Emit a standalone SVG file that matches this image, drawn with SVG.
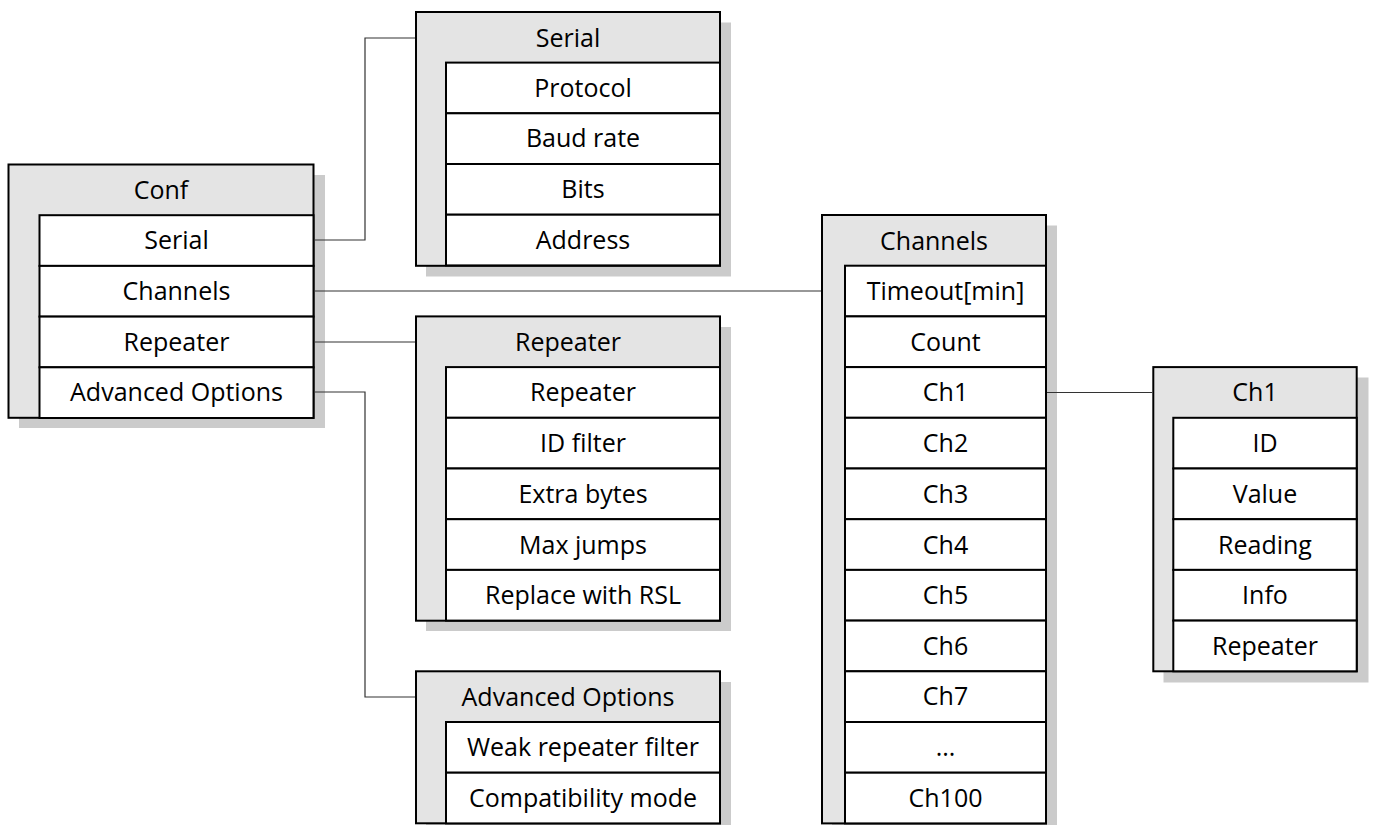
<svg xmlns="http://www.w3.org/2000/svg" width="1373" height="825" viewBox="0 0 1373 825">
<style>
.sh{fill:#cbcbcb}
.box{fill:#e4e4e4;stroke:#000;stroke-width:2}
.row{fill:#fff;stroke:#000;stroke-width:2}
text{font-family:"Open Sans","Noto Sans","Liberation Sans",sans-serif;font-size:25px;fill:#000;text-anchor:middle}
.con{fill:none;stroke:#333;stroke-width:1.2}
</style>
<rect width="1373" height="825" fill="#fff"/>
<g id="conf">
<rect class="sh" x="19" y="175" width="306" height="253"/>
<rect class="box" x="8.5" y="164.5" width="305" height="253.3"/>
<text x="161" y="199">Conf</text>
<rect class="row" x="39.5" y="215.2" width="274" height="50.7"/>
<rect class="row" x="39.5" y="265.9" width="274" height="50.7"/>
<rect class="row" x="39.5" y="316.6" width="274" height="50.7"/>
<rect class="row" x="39.5" y="367.3" width="274" height="50.7"/>
<text x="176.5" y="249">Serial</text>
<text x="176.5" y="300">Channels</text>
<text x="176.5" y="350.5">Repeater</text>
<text x="176.5" y="401">Advanced Options</text>
</g>
<g id="serial">
<rect class="sh" x="426" y="22.5" width="305" height="254"/>
<rect class="box" x="416" y="12" width="304" height="253.8"/>
<text x="568" y="47">Serial</text>
<rect class="row" x="446" y="62.6" width="274" height="50.7"/>
<rect class="row" x="446" y="113.3" width="274" height="50.7"/>
<rect class="row" x="446" y="164" width="274" height="50.7"/>
<rect class="row" x="446" y="214.7" width="274" height="50.7"/>
<text x="583" y="97">Protocol</text>
<text x="583" y="147">Baud rate</text>
<text x="583" y="198">Bits</text>
<text x="583" y="249">Address</text>
</g>
<g id="repeater">
<rect class="sh" x="426" y="327" width="305" height="304"/>
<rect class="box" x="416" y="316.4" width="304" height="304.3"/>
<text x="568" y="350.5">Repeater</text>
<rect class="row" x="446" y="367.1" width="274" height="50.7"/>
<rect class="row" x="446" y="417.8" width="274" height="50.7"/>
<rect class="row" x="446" y="468.5" width="274" height="50.7"/>
<rect class="row" x="446" y="519.2" width="274" height="50.7"/>
<rect class="row" x="446" y="569.9" width="274" height="50.7"/>
<text x="583" y="401">Repeater</text>
<text x="583" y="452">ID filter</text>
<text x="583" y="503">Extra bytes</text>
<text x="583" y="554">Max jumps</text>
<text x="583" y="604">Replace with RSL</text>
</g>
<g id="advanced-options">
<rect class="sh" x="426" y="682" width="305" height="160"/>
<rect class="box" x="416" y="671.3" width="304" height="152"/>
<text x="568" y="706">Advanced Options</text>
<rect class="row" x="446" y="722" width="274" height="50.7"/>
<rect class="row" x="446" y="772.7" width="274" height="50.7"/>
<text x="583" y="756">Weak repeater filter</text>
<text x="583" y="807">Compatibility mode</text>
</g>
<g id="channels">
<rect class="sh" x="832" y="225.5" width="225" height="620"/>
<rect class="box" x="822" y="215" width="224" height="608.4"/>
<text x="934" y="250">Channels</text>
<rect class="row" x="845" y="265.7" width="201" height="50.7"/>
<rect class="row" x="845" y="316.4" width="201" height="50.7"/>
<rect class="row" x="845" y="367.1" width="201" height="50.7"/>
<rect class="row" x="845" y="417.8" width="201" height="50.7"/>
<rect class="row" x="845" y="468.5" width="201" height="50.7"/>
<rect class="row" x="845" y="519.2" width="201" height="50.7"/>
<rect class="row" x="845" y="569.9" width="201" height="50.7"/>
<rect class="row" x="845" y="620.6" width="201" height="50.7"/>
<rect class="row" x="845" y="671.3" width="201" height="50.7"/>
<rect class="row" x="845" y="722" width="201" height="50.7"/>
<rect class="row" x="845" y="772.7" width="201" height="50.7"/>
<text x="945.5" y="300">Timeout[min]</text>
<text x="945.5" y="350.5">Count</text>
<text x="945.5" y="401">Ch1</text>
<text x="945.5" y="452">Ch2</text>
<text x="945.5" y="503">Ch3</text>
<text x="945.5" y="554">Ch4</text>
<text x="945.5" y="604">Ch5</text>
<text x="945.5" y="655">Ch6</text>
<text x="945.5" y="705">Ch7</text>
<text x="945.5" y="756">...</text>
<text x="945.5" y="807">Ch100</text>
</g>
<g id="ch1">
<rect class="sh" x="1163.5" y="377.5" width="205" height="305"/>
<rect class="box" x="1153.3" y="367.1" width="203.4" height="304.2"/>
<text x="1255" y="401">Ch1</text>
<rect class="row" x="1173.3" y="417.8" width="183.4" height="50.7"/>
<rect class="row" x="1173.3" y="468.5" width="183.4" height="50.7"/>
<rect class="row" x="1173.3" y="519.2" width="183.4" height="50.7"/>
<rect class="row" x="1173.3" y="569.9" width="183.4" height="50.7"/>
<rect class="row" x="1173.3" y="620.6" width="183.4" height="50.7"/>
<text x="1265" y="452">ID</text>
<text x="1265" y="503">Value</text>
<text x="1265" y="554">Reading</text>
<text x="1265" y="604">Info</text>
<text x="1265" y="655">Repeater</text>
</g>
<g id="connectors">
<polyline class="con" points="314.5,240 365,240 365,38 415,38"/>
<line class="con" x1="314.5" y1="291" x2="821" y2="291"/>
<line class="con" x1="314.5" y1="342" x2="415" y2="342"/>
<polyline class="con" points="314.5,392 365,392 365,697 415,697"/>
<line class="con" x1="1047" y1="392.5" x2="1152.3" y2="392.5"/>
</g>
</svg>
